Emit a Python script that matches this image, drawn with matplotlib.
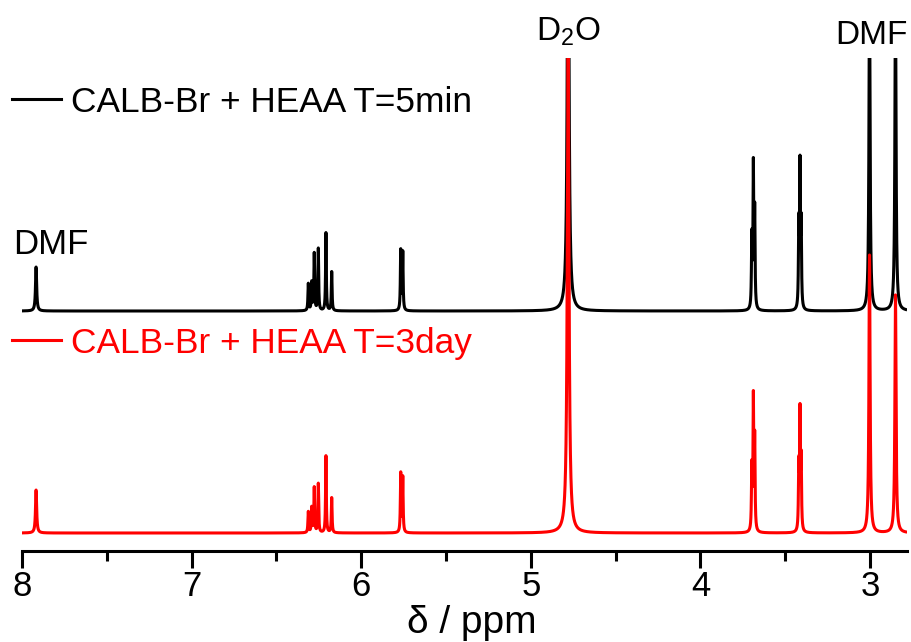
import numpy as np
import matplotlib
matplotlib.use("Agg")
import matplotlib.pyplot as plt
from matplotlib.ticker import MultipleLocator

plt.rcParams['font.family'] = ['Liberation Sans', 'DejaVu Sans']
plt.rcParams['mathtext.fontset'] = 'custom'
plt.rcParams['mathtext.rm'] = 'Liberation Sans'
plt.rcParams['mathtext.it'] = 'Liberation Sans:italic'

# 1H NMR peak lists (chemical shift in ppm, intensity, half width in ppm)
shift_5min = [7.917, 6.312, 6.292, 6.277, 6.253, 6.208, 6.174, 5.767, 5.755,
              4.780, 3.697, 3.688, 3.680, 3.420, 3.413, 3.406, 3.003, 2.850]
height_5min = [44, 27, 28, 57, 62, 78, 39, 60, 58,
               450, 70, 140, 95, 80, 138, 80, 320, 320]
shift_3day = [7.917, 6.312, 6.292, 6.277, 6.253, 6.208, 6.174, 5.767, 5.755,
              4.780, 3.697, 3.688, 3.680, 3.420, 3.413, 3.406, 3.003, 2.850]
height_3day = [43, 21, 25, 45, 49, 77, 35, 59, 55,
               480, 62, 130, 90, 62, 115, 68, 278, 238]
linewidth_ppm = [0.004, 0.0025, 0.0025, 0.0025, 0.0025, 0.0025, 0.0025, 0.0025, 0.0025,
                 0.006, 0.0025, 0.0025, 0.0025, 0.0025, 0.0025, 0.0025, 0.004, 0.004]
offset_5min = 222

ppm = np.linspace(8.0, 2.79, 20000)


def lorentzian_sum(shifts, heights, widths):
    y = np.zeros_like(ppm)
    for s, h, w in zip(shifts, heights, widths):
        y += h / (1.0 + ((ppm - s) / w) ** 2)
    return y


spec_5min = lorentzian_sum(shift_5min, height_5min, linewidth_ppm) + offset_5min
spec_3day = lorentzian_sum(shift_3day, height_3day, linewidth_ppm)

W, H = 911, 642
fig = plt.figure(figsize=(W / 100, H / 100), dpi=100)
ax = fig.add_axes([22 / W, 1 - 551 / H, (907 - 22) / W, (551 - 58) / H])

line_5min, = ax.plot(ppm, spec_5min, color='black', lw=2.2,
                     label='CALB-Br + HEAA T=5min', zorder=2)
line_3day, = ax.plot(ppm, spec_3day, color='#ff0000', lw=2.2,
                     label='CALB-Br + HEAA T=3day', zorder=3)

ax.set_xlim(8.0, 2.782)
ax.set_ylim(-18, 475)

for side in ('left', 'right', 'top'):
    ax.spines[side].set_visible(False)
ax.spines['bottom'].set_linewidth(2.2)
ax.set_yticks([])
ax.xaxis.set_major_locator(MultipleLocator(1))
ax.xaxis.set_minor_locator(MultipleLocator(0.5))
ax.tick_params(axis='x', which='major', length=12, width=2.2, labelsize=25, pad=2)
ax.tick_params(axis='x', which='minor', length=7, width=2.2)
ax.set_xlabel('δ / ppm', fontsize=28)
ax.xaxis.label.set_verticalalignment('bottom')
ax.xaxis.set_label_coords((472 - 22) / (907 - 22), -(641 - 551) / (551 - 58))

# annotations for solvent signals
ax.text(13 / W, 1 - 245 / H, 'DMF', transform=fig.transFigure, fontsize=25,
        ha='left', va='center')
ax.text(871 / W, 1 - 36 / H, 'DMF', transform=fig.transFigure, fontsize=24,
        ha='center', va='center')
ax.text(568 / W, 1 - 32 / H, r'D$_{2}$O', transform=fig.transFigure, fontsize=24,
        ha='center', va='center')

common = dict(loc='center left', bbox_transform=fig.transFigure, frameon=False,
              fontsize=25.4, handlelength=1.4, handletextpad=0.28, borderpad=0,
              borderaxespad=0)
leg1 = ax.legend(handles=[line_5min], bbox_to_anchor=(12 / W, 1 - 102 / H), **common)
ax.add_artist(leg1)
leg2 = ax.legend(handles=[line_3day], bbox_to_anchor=(12 / W, 1 - 343 / H),
                 labelcolor='#ff0000', **common)

fig.savefig('out.png', dpi=100)
